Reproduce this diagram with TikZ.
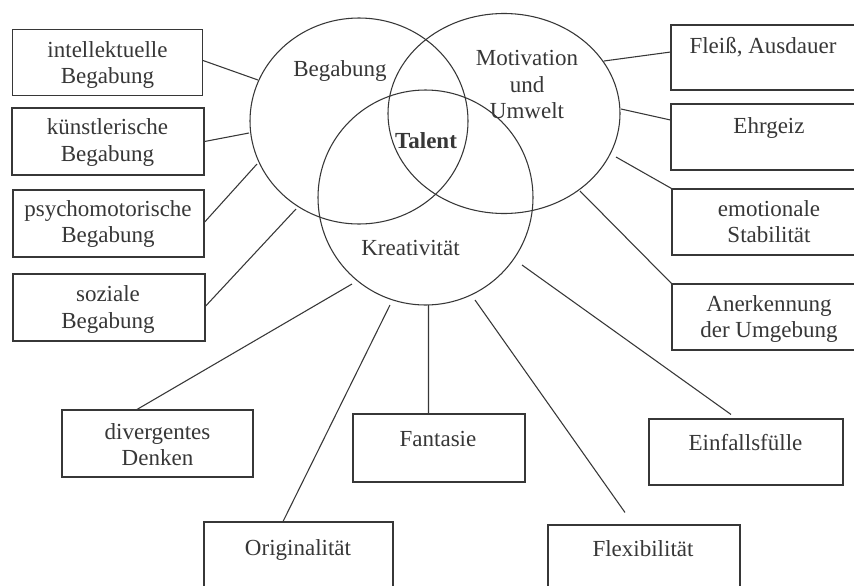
\documentclass[tikz,border=0pt]{standalone}
\usepackage{fontspec}
\setmainfont{Liberation Serif}
\usetikzlibrary{shapes.geometric}
\definecolor{ink}{RGB}{55,55,55}
\begin{document}
\begin{tikzpicture}[x=0.75pt,y=-0.75pt,
  box/.style={draw=ink, line width=0.8pt, inner sep=0pt},
  txt/.style={inner sep=0pt, anchor=north, align=center, text=ink,
    font=\fontsize{17.25}{19.8}\selectfont, execute at begin node=\strut},
  circ/.style={ellipse, draw=ink, line width=0.8pt, inner sep=0pt},
  con/.style={draw=ink, line width=0.8pt}]
\useasboundingbox (0,0) rectangle (854,586);
\clip (0,0) rectangle (854,586);
\fill[white] (0,0) rectangle (854,586);

% ellipses
\node[circ, minimum width=163.5pt, minimum height=154.5pt] (beg) at (359,121) {};
\node[circ, minimum width=174pt, minimum height=150pt] (mot) at (504,113.5) {};
\node[circ, minimum width=161.25pt, minimum height=161.25pt] (kre) at (425.5,197.5) {};

% ellipse labels
\node[txt] (tbeg) at (340,57.5) {Begabung};
\node[txt] (tmot) at (527,50.5) {Motivation\\und\\Umwelt};
\node[txt, font=\fontsize{17.25}{19.8}\selectfont\bfseries] (ttal) at (426,129.8) {Talent};
\node[txt] (tkre) at (410.5,236.5) {Kreativität};

% boxes
\node[box, minimum width=142.5pt, minimum height=49.5pt] (intel) at (107.5,62.5) {};
\node[box, minimum width=144pt, minimum height=50.25pt] (kuenst) at (108,141.5) {};
\node[box, minimum width=143.25pt, minimum height=50.25pt] (psycho) at (108.5,223.5) {};
\node[box, minimum width=144pt, minimum height=50.25pt] (sozial) at (109,307.5) {};
\node[box, minimum width=147pt, minimum height=48.75pt] (fleiss) at (769,57.5) {};
\node[box, minimum width=147pt, minimum height=49.5pt] (ehrgeiz) at (769,137) {};
\node[box, minimum width=146.25pt, minimum height=49.5pt] (emot) at (769.5,222) {};
\node[box, minimum width=146.25pt, minimum height=49.5pt] (anerk) at (769.5,317) {};
\node[box, minimum width=143.25pt, minimum height=50.25pt] (diverg) at (157.5,443.5) {};
\node[box, minimum width=129pt, minimum height=51pt] (fant) at (439,448) {};
\node[box, minimum width=145.5pt, minimum height=49.5pt] (einf) at (746,452) {};
\node[box, minimum width=141.75pt, minimum height=52.5pt] (orig) at (298.5,557) {};
\node[box, minimum width=144pt, minimum height=52.5pt] (flex) at (644,560) {};

% box texts
\node[txt] (tintel) at (107.5,40.8) {intellektuelle\\Begabung};
\node[txt] (tkuenst) at (107.5,118.5) {künstlerische\\Begabung};
\node[txt] (tpsycho) at (108,200) {psychomotorische\\Begabung};
\node[txt] (tsozial) at (108,285.5) {soziale\\Begabung};
\node[txt] (tfleiss) at (763,34.8) {Fleiß, Ausdauer};
\node[txt] (tehrgeiz) at (769,114.8) {Ehrgeiz};
\node[txt] (temot) at (769,199.8) {emotionale\\Stabilität};
\node[txt] (tanerk) at (769,294.8) {Anerkennung\\der Umgebung};
\node[txt] (tdiverg) at (157.5,423.2) {divergentes\\Denken};
\node[txt] (tfant) at (438,428) {Fantasie};
\node[txt] (teinf) at (745.5,431.5) {Einfallsfülle};
\node[txt] (torig) at (298,536.5) {Originalität};
\node[txt] (tflex) at (643,538.2) {Flexibilität};

% connector ends on the ellipses
\coordinate (e1) at (258,80);
\coordinate (e2) at (249,133);
\coordinate (e3) at (257,164);
\coordinate (e4) at (296,209);
\coordinate (e5) at (604,61);
\coordinate (e6) at (621,109);
\coordinate (e7) at (616,157);
\coordinate (e8) at (580,191);
\coordinate (e9) at (352,284);
\coordinate (e10) at (390,305);
\coordinate (e11) at (428.5,305);
\coordinate (e12) at (475,300);
\coordinate (e13) at (522,265);

% connectors
\draw[con] ([yshift=1.5pt]intel.east) -- (e1);
\draw[con] (kuenst.east) -- (e2);
\draw[con] ([yshift=1pt]psycho.east) -- (e3);
\draw[con] ([yshift=1pt]sozial.east) -- (e4);
\draw[con] ([yshift=4.1pt]fleiss.west) -- (e5);
\draw[con] ([yshift=12.75pt]ehrgeiz.west) -- (e6);
\draw[con] (emot.north west) -- (e7);
\draw[con] (anerk.north west) -- (e8);
\draw[con] ([xshift=-15.4pt]diverg.north) -- (e9);
\draw[con] ([xshift=-11.6pt]orig.north) -- (e10);
\draw[con] ([xshift=-7.9pt]fant.north) -- (e11);
\draw[con] ([xshift=-14.25pt,yshift=9pt]flex.north) -- (e12);
\draw[con] ([xshift=-11.25pt,yshift=3pt]einf.north) -- (e13);
\end{tikzpicture}
\end{document}
